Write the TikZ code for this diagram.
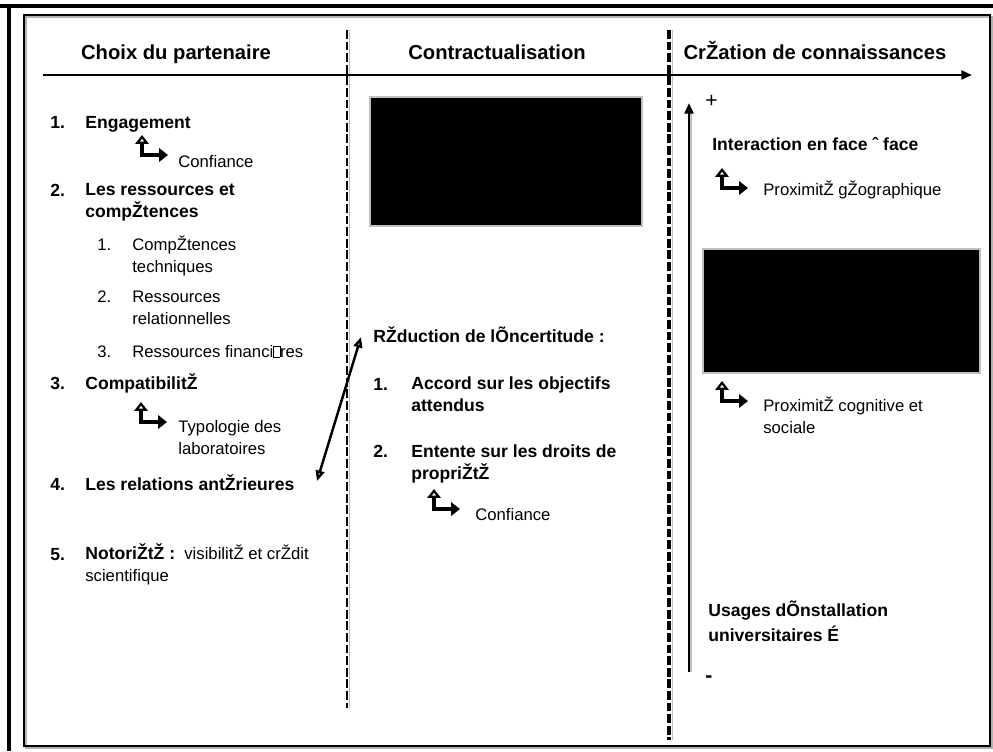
\documentclass[tikz,border=0pt]{standalone}
\usepackage{fontspec}
\setmainfont{Liberation Sans}
\usetikzlibrary{arrows.meta}

\newcommand{\nobox}{{\fboxsep=0pt\fboxrule=0.3pt\framebox[0.4em]{\rule{0pt}{0.62em}}}}

\tikzset{
  titre/.style={anchor=base, inner sep=0pt, font=\fontsize{11.5}{14}\selectfont\bfseries},
  gras/.style={anchor=base west, inner sep=0pt, align=left, font=\fontsize{10}{12}\selectfont\bfseries},
  texte/.style={anchor=base west, inner sep=0pt, align=left, font=\fontsize{9.5}{12.3}\selectfont},
  pointille/.style={line width=1.1pt, dash pattern=on 5pt off 1.6pt},
  coin/.style={line width=2.6pt, {Triangle[open,length=5pt,width=7.5pt]}-{Triangle[length=5pt,width=7.5pt]}},
  bloc/.style={fill=black, draw=gray!50, line width=0.6pt},
}

\begin{document}
\begin{tikzpicture}[x=0.02cm, y=-0.02cm]
\useasboundingbox (0,0) rectangle (993,751);

% cadre
\draw[line width=2.2pt] (0,6) -- (993,6);
\draw[line width=2.2pt] (9,6) -- (9,751);
\draw[gray!60, line width=1.2pt] (26,17) rectangle (992,748);
\draw[line width=1pt] (24,15) rectangle (990,746);

% colonnes
\draw[gray!50, line width=0.5pt] (349,30) -- (349,708);
\draw[pointille] (347,30) -- (347,708);
\draw[gray!50, line width=0.5pt] (672,30) -- (672,740);
\draw[pointille, line width=1.8pt] (669,30) -- (669,740);

% axe du temps
\coordinate (axe0) at (43,75);
\coordinate (axe1) at (972,75);
\draw[line width=1.7pt, -{Triangle[length=6pt,width=5pt]}] (axe0) -- (axe1);

\node[titre] (choix) at (176,59) {Choix du partenaire};
\node[titre] (contrat) at (497,59) {Contractualisation};
\node[titre] (creation) at (815,59) {CrŽation de connaissances};

% blocs noirs
\draw[bloc] (370,97) rectangle (642,226);
\draw[bloc] (703,249) rectangle (980,373);

% fleches coudees
\foreach \x/\y in {138/135, 137/402, 430/489, 718/168, 718/381}
  \draw[coin] (\x+4,\y) |- (\x+30,\y+20);

% choix du partenaire
\node[gras] (n1) at (50,128) {1.};
\node[gras] (engagement) at (85,128) {Engagement};
\node[texte] (confiance1) at (178,167) {Confiance};
\node[gras] (n2) at (50,196) {2.};
\node[gras] (ressources) at (85,217) {Les ressources et\\compŽtences};
\node[texte] (s1) at (97,250) {1.};
\node[texte] (techniques) at (132,272) {CompŽtences\\techniques};
\node[texte] (s2) at (97,302) {2.};
\node[texte] (relationnelles) at (132,324) {Ressources\\relationnelles};
\node[texte] (s3) at (97,357) {3.};
\node[texte] (financieres) at (132,357) {Ressources financi\nobox res};
\node[gras] (n3) at (50,389) {3.};
\node[gras] (compat) at (85,389) {CompatibilitŽ};
\node[texte] (typologie) at (178,454) {Typologie des\\laboratoires};
\node[gras] (n4) at (50,490) {4.};
\node[gras] (relations) at (85,490) {Les relations antŽrieures};
\node[gras] (n5) at (50,560) {5.};
\node[texte] (notoriete) at (85,581) {{\fontsize{10}{12}\selectfont\bfseries NotoriŽtŽ :}\ \ visibilitŽ et crŽdit\\scientifique};

% contractualisation
\node[gras] (reduction) at (373,342) {RŽduction de lÕncertitude :};
\node[gras] (m1) at (373,390) {1.};
\node[gras] (accord) at (411,411) {Accord sur les objectifs\\attendus};
\node[gras] (m2) at (373,457) {2.};
\node[gras] (entente) at (411,479) {Entente sur les droits de\\propriŽtŽ};
\node[texte] (confiance2) at (475,520) {Confiance};

\coordinate (rel) at (317,481);
\coordinate (red) at (361,337);
\draw[line width=1.4pt, {Triangle[open,length=6pt,width=5pt]}-{Triangle[open,length=6pt,width=5pt]}] (rel) -- (red);

% creation de connaissances
\coordinate (bas) at (689,672);
\coordinate (haut) at (689,103);
\draw[gray!50, line width=1pt] (691,110) -- (691,672);
\draw[line width=1.5pt, -{Triangle[open,length=6pt,width=5pt]}] (bas) -- (haut);
\node[texte, font=\fontsize{12}{12}\selectfont] (plus) at (705,107) {+};
\node[texte, font=\fontsize{12}{12}\selectfont\bfseries] (moins) at (705,682) {-};

\node[gras] (interaction) at (712,150) {Interaction en face ˆ face};
\node[texte] (geo) at (763,195) {ProximitŽ gŽographique};
\node[texte] (cognitive) at (763,433) {ProximitŽ cognitive et\\sociale};
\node[gras] (usages) at (708,641) {Usages dÕnstallation\\[2pt]universitaires É};
\end{tikzpicture}
\end{document}
